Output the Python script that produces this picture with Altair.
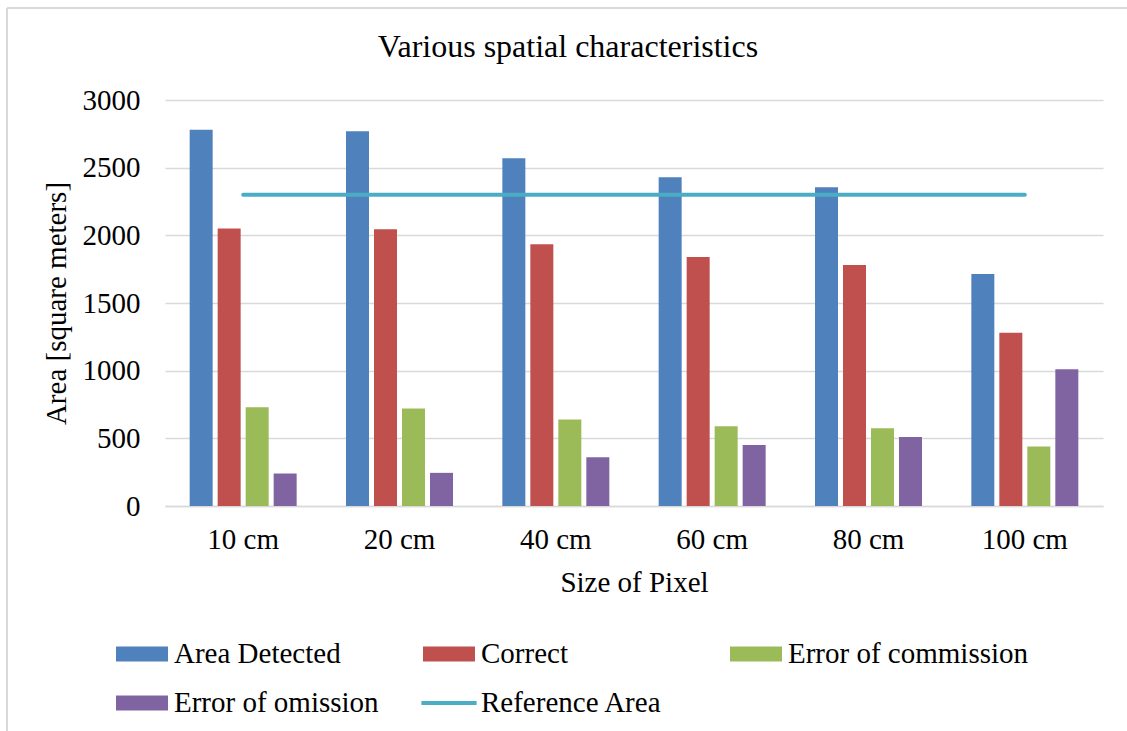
import altair as alt
import pandas as pd

categories = ["10 cm", "20 cm", "40 cm", "60 cm", "80 cm", "100 cm"]
series_names = ["Area Detected", "Correct", "Error of commission", "Error of omission"]
area_detected = [2780, 2770, 2570, 2430, 2355, 1715]
correct = [2050, 2045, 1935, 1840, 1780, 1280]
error_commission = [730, 720, 640, 590, 575, 440]
error_omission = [240, 245, 360, 450, 510, 1010]
reference_area = [2300, 2300, 2300, 2300, 2300, 2300]
reference_name = "Reference Area"

colors = ["#4F81BD", "#C0504D", "#9BBB59", "#8064A2", "#4BACC6"]
all_series = series_names + [reference_name]

rows = []
for s, vals in zip(series_names, [area_detected, correct, error_commission, error_omission]):
    for c, v in zip(categories, vals):
        rows.append({"cat": c, "series": s, "value": v})
bars_df = pd.DataFrame(rows)
ref_df = pd.DataFrame({"cat": categories, "value": reference_area})
legend_df = pd.DataFrame({"series": all_series})

FONT = "Times New Roman, Liberation Serif, DejaVu Serif, serif"
GRID = "#D9D9D9"
FS = 29

bar_path = "M-1.083,-0.3125H1.083V0.3125H-1.083Z"
line_path = "M-1.15,-0.085H1.15V0.085H-1.15Z"

x_enc = alt.X(
    "cat:N",
    sort=categories,
    scale=alt.Scale(paddingInner=0.3156, paddingOuter=0.1578),
    axis=alt.Axis(
        title="Size of Pixel",
        labelAngle=0,
        ticks=False,
        tickSize=0,
        grid=False,
        domainColor=GRID,
        domainWidth=1.5,
        labelPadding=42,
        labelBaseline="alphabetic",
        labelFontSize=FS,
        titleFontSize=FS,
        titleFontWeight="normal",
        titleY=85,
        titleBaseline="alphabetic",
    ),
)

y_enc = alt.Y(
    "value:Q",
    scale=alt.Scale(domain=[0, 3000], nice=False),
    axis=alt.Axis(
        title="Area [square meters]",
        values=[0, 500, 1000, 1500, 2000, 2500, 3000],
        format="d",
        ticks=False,
        tickSize=0,
        domain=False,
        gridColor=GRID,
        gridWidth=1.5,
        labelPadding=25,
        labelFontSize=FS,
        titleFontSize=FS,
        titleFontWeight="normal",
        titleX=-100,
        titleY=203,
        titleBaseline="alphabetic",
    ),
)

legend_params = dict(
    title=None,
    orient="none",
    legendX=-47,
    legendY=530,
    direction="horizontal",
    columns=3,
    gridAlign="all",
    columnPadding=6,
    rowPadding=10,
    labelFontSize=FS,
    labelFont=FONT,
    labelColor="black",
    labelOffset=8,
    symbolSize=2304,
    symbolOpacity=1,
    symbolStrokeWidth=0,
    padding=0,
    labelLimit=400,
)

color_scale = alt.Scale(domain=all_series, range=colors)

bars = alt.Chart(bars_df).mark_bar().encode(
    x=x_enc,
    xOffset=alt.XOffset("series:N", sort=series_names,
                        scale=alt.Scale(paddingInner=0.1786, paddingOuter=0)),
    y=y_enc,
    color=alt.Color("series:N", scale=color_scale, legend=alt.Legend(**legend_params)),
)

line = alt.Chart(ref_df).mark_line(color="#4BACC6", strokeWidth=4, strokeCap="round").encode(
    x=alt.X("cat:N", sort=categories),
    y="value:Q",
)

legend_layer = alt.Chart(legend_df).mark_point(filled=True, opacity=0, size=2304).encode(
    color=alt.Color("series:N", scale=color_scale, legend=alt.Legend(**legend_params)),
    shape=alt.Shape("series:N",
                    scale=alt.Scale(domain=all_series,
                                    range=[bar_path, bar_path, bar_path, bar_path, line_path]),
                    legend=alt.Legend(**legend_params)),
)

frame_df = pd.DataFrame({"a": [0]})
frame_left = alt.Chart(frame_df).mark_rule(color=GRID, strokeWidth=2).encode(
    x=alt.value(-158), y=alt.value(-92), y2=alt.value(640)
)
frame_top = alt.Chart(frame_df).mark_rule(color=GRID, strokeWidth=2).encode(
    x=alt.value(-158), x2=alt.value(970), y=alt.value(-92)
)

chart = alt.layer(frame_left, frame_top, bars, line, legend_layer).properties(
    width=938,
    height=406,
    padding={"left": 165, "top": 100, "right": 24, "bottom": 225},
    autosize=alt.AutoSizeParams(type="none"),
    title=alt.TitleParams(
        "Various spatial characteristics",
        font=FONT,
        fontSize=32,
        fontWeight="normal",
        color="black",
        anchor="middle",
        frame="group",
        dx=-66,
        dy=82,
        baseline="alphabetic",
        offset=0,
    ),
).configure(
    font=FONT,
    background="white",
).configure_axis(
    labelFont=FONT,
    titleFont=FONT,
    labelColor="black",
    titleColor="black",
).configure_legend(
    labelFont=FONT,
).configure_view(stroke=None)

chart.save("out.html", embed_options={"renderer": "svg", "actions": False})
